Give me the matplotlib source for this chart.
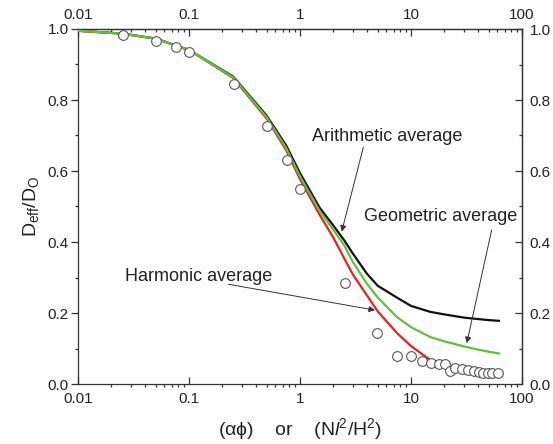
import matplotlib
matplotlib.use('Agg')
import matplotlib.pyplot as plt
from matplotlib.ticker import FixedLocator, FixedFormatter, LogLocator, MultipleLocator, NullFormatter

plt.rcParams['font.family'] = ['Liberation Sans', 'DejaVu Sans']
plt.rcParams['mathtext.fontset'] = 'custom'
plt.rcParams['mathtext.rm'] = 'Liberation Sans'
plt.rcParams['mathtext.it'] = 'Liberation Sans:italic'

# ---- data ----
x_model = [0.01, 0.025, 0.05, 0.1, 0.25, 0.5, 0.75, 1.0, 1.5, 2.0, 2.5, 3.0, 4.0, 5.0,
           7.5, 10, 15, 20, 30, 40, 50, 62]
arith = [0.995, 0.987, 0.973, 0.941, 0.866, 0.756, 0.672, 0.594, 0.497, 0.446, 0.405, 0.367,
         0.311, 0.277, 0.243, 0.220, 0.203, 0.196, 0.187, 0.183, 0.180, 0.178]
geom = [0.995, 0.987, 0.973, 0.941, 0.864, 0.752, 0.665, 0.585, 0.488, 0.434, 0.391, 0.343,
        0.283, 0.244, 0.188, 0.160, 0.132, 0.120, 0.106, 0.097, 0.091, 0.086]
harm = [0.995, 0.987, 0.973, 0.941, 0.862, 0.748, 0.659, 0.577, 0.477, 0.412, 0.354, 0.308,
        0.250, 0.205, 0.143, 0.107, 0.067, 0.052, 0.040, 0.033, 0.030, 0.028]

x_data = [0.0254, 0.0504, 0.0764, 0.1007, 0.254, 0.50, 0.76, 1.0, 2.53, 4.97, 7.53, 10.1,
          12.6, 15.1, 17.8, 20.2, 22.4, 25.1, 28.6, 32.8, 37.0, 41.0, 44.8, 49.7, 54.0, 61.1]
y_data = [0.983, 0.965, 0.949, 0.934, 0.846, 0.727, 0.631, 0.549, 0.284, 0.143, 0.079, 0.080,
          0.066, 0.058, 0.055, 0.055, 0.037, 0.046, 0.041, 0.039, 0.037, 0.035, 0.032, 0.030,
          0.030, 0.032]

x_ticks = [0.01, 0.1, 1, 10, 100]
x_ticklabels = ['0.01', '0.1', '1', '10', '100']
y_ticks = [0.0, 0.2, 0.4, 0.6, 0.8, 1.0]
y_ticklabels = ['0.0', '0.2', '0.4', '0.6', '0.8', '1.0']

labels = ['Arithmetic average', 'Geometric average', 'Harmonic average']

# ---- figure ----
fig = plt.figure(figsize=(5.53, 4.44), dpi=100)
ax = fig.add_axes([78/553, 1-384/444, (522-78)/553, (384-29)/444])

ax.plot(x_model, arith, color='#111111', lw=1.6, zorder=3)
ax.plot(x_model, harm, color='#e8231c', lw=1.6, zorder=3)
ax.plot(x_model, geom, color='#5cc43c', lw=1.6, zorder=4)
ax.plot(x_data, y_data, ls='none', marker='o', ms=7, mfc='white', mec='#555555',
        mew=0.8, zorder=5)

ax.set_xscale('log')
ax.set_xlim(0.01, 100)
ax.set_ylim(0, 1.0)

spine_c = '#333333'
for s in ax.spines.values():
    s.set_color(spine_c)
    s.set_linewidth(0.9)

ax.xaxis.set_major_locator(FixedLocator(x_ticks))
ax.xaxis.set_major_formatter(FixedFormatter(x_ticklabels))
ax.xaxis.set_minor_locator(LogLocator(base=10, subs=range(2, 10)))
ax.xaxis.set_minor_formatter(NullFormatter())
ax.yaxis.set_major_locator(FixedLocator(y_ticks))
ax.yaxis.set_major_formatter(FixedFormatter(y_ticklabels))
ax.yaxis.set_minor_locator(MultipleLocator(0.1))

fs_tick = 11
ax.tick_params(axis='x', which='major', direction='in', length=5, width=0.9,
               color=spine_c, labelsize=fs_tick, labelcolor='#222222', pad=6, top=False)
ax.tick_params(axis='x', which='minor', direction='out', length=2.5, width=0.9,
               color=spine_c, top=False)
ax.tick_params(axis='y', which='major', direction='out', length=5, width=0.9,
               color=spine_c, labelsize=fs_tick, labelcolor='#222222', pad=1.5, right=False)
ax.tick_params(axis='y', which='minor', direction='out', length=2.5, width=0.9,
               color=spine_c, right=False)

top = ax.secondary_xaxis('top')
top.xaxis.set_major_locator(FixedLocator(x_ticks))
top.xaxis.set_major_formatter(FixedFormatter(x_ticklabels))
top.xaxis.set_minor_locator(LogLocator(base=10, subs=range(2, 10)))
top.xaxis.set_minor_formatter(NullFormatter())
top.tick_params(axis='x', which='major', direction='in', length=5, width=0.9,
                color=spine_c, labelsize=fs_tick, labelcolor='#222222', pad=5)
top.tick_params(axis='x', which='minor', direction='in', length=2.5, width=0.9, color=spine_c)
top.spines['top'].set_color(spine_c)
top.spines['top'].set_linewidth(0.9)

right = ax.secondary_yaxis('right')
right.yaxis.set_major_locator(FixedLocator(y_ticks))
right.yaxis.set_major_formatter(FixedFormatter(y_ticklabels))
right.yaxis.set_minor_locator(MultipleLocator(0.1))
right.tick_params(axis='y', which='major', direction='in', length=5, width=0.9,
                  color=spine_c, labelsize=fs_tick, labelcolor='#222222', pad=5.5)
right.tick_params(axis='y', which='minor', direction='in', length=2.5, width=0.9, color=spine_c)
right.spines['right'].set_color(spine_c)
right.spines['right'].set_linewidth(0.9)

ax.set_ylabel(r'D$_{\rm eff}$/D$_{\rm O}$', fontsize=14, color='#222222', labelpad=5)
ax.set_xlabel(r'($\rm\alpha\phi$)    or    (N$\it{l}$$^2$/H$^2$)', fontsize=14,
              color='#222222', labelpad=7)

# annotations
tc = '#222222'
ax.text(6.08, 0.697, labels[0], fontsize=13, color=tc, ha='center', va='center')
ax.text(18.5, 0.471, labels[1], fontsize=13, color=tc, ha='center', va='center')
ax.text(0.1223, 0.304, labels[2], fontsize=13, color=tc, ha='center', va='center')

ap = dict(arrowstyle='-|>', color='#333333', lw=0.7, mutation_scale=9,
          shrinkA=0, shrinkB=0)
ax.annotate('', xy=(2.375, 0.429), xytext=(3.72, 0.667), arrowprops=ap, zorder=6)
ax.annotate('', xy=(31.8, 0.115), xytext=(53.3, 0.434), arrowprops=ap, zorder=6)
ax.annotate('', xy=(4.74, 0.208), xytext=(0.226, 0.281), arrowprops=ap, zorder=6)

fig.savefig('out.png', dpi=100)
